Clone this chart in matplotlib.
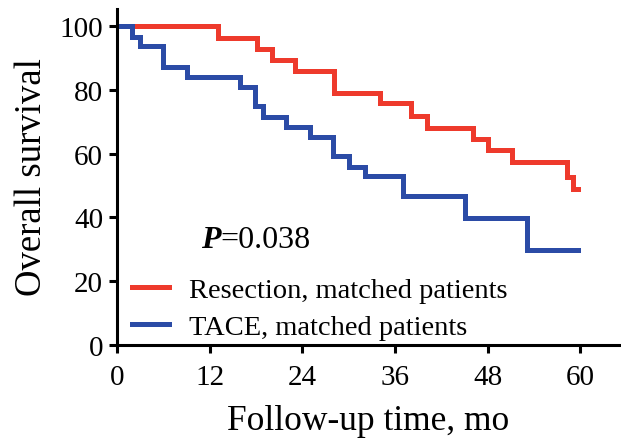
import matplotlib
matplotlib.use("Agg")
import matplotlib.pyplot as plt

plt.rcParams["font.family"] = ["Liberation Serif", "DejaVu Serif"]

# Kaplan-Meier curves (months, % surviving)
resection_time = [0, 13.1, 18.1, 20.1, 23.1, 28.1, 34.1, 38.1, 40.2, 46.1, 48.1, 51.2, 58.3, 59.1, 59.7]
resection_surv = [100, 96.3, 92.9, 89.5, 86.0, 79.1, 75.8, 71.9, 68.2, 64.5, 61.2, 57.5, 52.8, 48.8, 48.8]

tace_time = [0, 1.9, 3.0, 6.0, 9.1, 15.9, 17.9, 18.9, 21.9, 25.0, 28.0, 30.0, 32.1, 37.0, 45.1, 53.1, 59.7]
tace_surv = [100, 96.7, 93.6, 87.2, 84.1, 81.0, 74.8, 71.6, 68.3, 65.3, 59.3, 55.9, 53.0, 46.7, 39.7, 29.8, 29.8]

xticks = [0, 12, 24, 36, 48, 60]
yticks = [0, 20, 40, 60, 80, 100]

fig = plt.figure(figsize=(6.21, 4.39), dpi=100)
ax = fig.add_axes([0.1884, 0.2118, 0.8106, 0.765])

ax.step(resection_time, resection_surv, where="post", color="#EE3A2C", lw=3.6,
        label="Resection, matched patients", solid_joinstyle="miter")
ax.step(tace_time, tace_surv, where="post", color="#2B4BA6", lw=3.6,
        label="TACE, matched patients", solid_joinstyle="miter")

ax.set_xlim(0, 65.2)
ax.set_ylim(0, 105.3)
ax.set_xticks(xticks)
ax.set_yticks(yticks)
ax.tick_params(labelsize=21, width=2.2, length=6, direction="out")
ax.tick_params(axis="x", pad=7.5)
ax.tick_params(axis="y", pad=4)
for s in ["top", "right"]:
    ax.spines[s].set_visible(False)
for s in ["left", "bottom"]:
    ax.spines[s].set_linewidth(2.2)

ax.set_xlabel("Follow-up time, mo", fontsize=25.5)
ax.xaxis.set_label_coords(0.498, -0.177)
ax.set_ylabel("Overall survival", fontsize=26.5)
ax.yaxis.set_label_coords(-0.136, 0.503)

t = ax.text(10.9, 33.2, "P", fontsize=23, fontweight="bold", fontstyle="italic", va="center")
ax.annotate("=0.038", xy=(1, 0), xycoords=t, va="bottom", fontsize=23)

ax.legend(loc="upper left", bbox_to_anchor=(-0.01, 0.262), frameon=False, fontsize=20.5,
          handlelength=1.3, handletextpad=0.7, labelspacing=0.38, borderaxespad=0.3)

fig.savefig("out.png", dpi=100)
